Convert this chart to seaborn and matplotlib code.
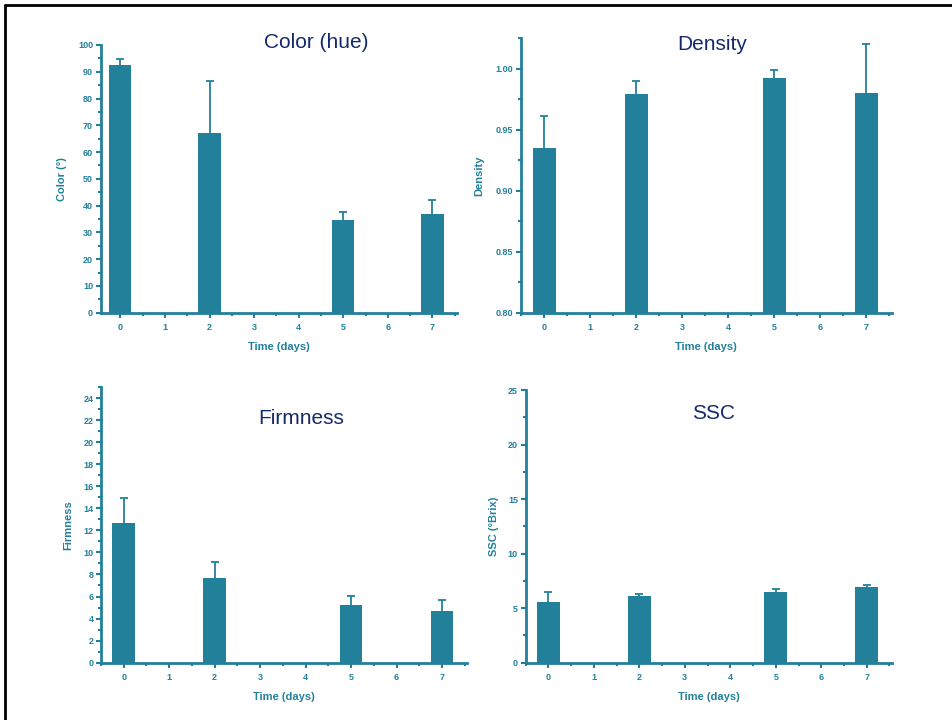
"""
四联柱状图: 颜色 / 密度 / 硬度 / SSC 随贮藏时间变化
"""

import numpy as np
import pandas as pd
import matplotlib
matplotlib.use("Agg")
import matplotlib.pyplot as plt
from matplotlib.lines import Line2D
from matplotlib.ticker import MultipleLocator
import seaborn as sns

sns.set_style("ticks")
plt.rcParams['font.family'] = ['Liberation Sans', 'DejaVu Sans']

# ============================================================
# 数据
# ============================================================
days = [0, 2, 5, 7]

color_hue = [92.5, 67.0, 34.8, 36.7]
color_err = [2.2, 19.6, 2.8, 5.3]

density = [0.935, 0.979, 0.992, 0.980]
density_err = [0.026, 0.011, 0.007, 0.040]

firmness = [12.7, 7.7, 5.25, 4.7]
firmness_err = [2.2, 1.45, 0.8, 0.95]

ssc = [5.55, 6.15, 6.5, 6.95]
ssc_err = [0.9, 0.18, 0.27, 0.18]

TEAL = "#23809a"
NAVY = "#15296b"

# ============================================================
# 画图
# ============================================================
fig = plt.figure(figsize=(9.53, 7.2), dpi=100)

panels = [
    # values, err, title, ylabel, ylim, major, minor, fmt, axes rect, xlim0, title pos, ylabel x
    (color_hue, color_err, "Color (hue)", "Color (°)", (0, 100), 10, 5, "{:.0f}",
     [0.1057, 0.5657, 0.3738, 0.3718], -0.44, (316, 42), -0.095),
    (density, density_err, "Density", "Density", (0.80, 1.025), 0.05, 0.025, "{:.2f}",
     [0.5467, 0.5657, 0.3890, 0.3815], -0.50, (712, 44), -0.099),
    (firmness, firmness_err, "Firmness", "Firmness", (0, 25), 2, 1, "{:.0f}",
     [0.1060, 0.0796, 0.3840, 0.3829], -0.50, (301, 418), -0.076),
    (ssc, ssc_err, "SSC", "SSC (°Brix)", (0, 25), 5, 2.5, "{:.0f}",
     [0.5516, 0.0796, 0.3841, 0.3787], -0.50, (714, 414), -0.074),
]

for vals, err, title, ylab, ylim, major, minor, fmt, rect, x0, tpos, ylx in panels:
    ax = fig.add_axes(rect)
    df = pd.DataFrame({"day": days, "value": vals})
    # 误差线画在柱子下面, 下半段被柱子遮住
    ax.errorbar(days, vals, yerr=err, fmt="none", ecolor=TEAL,
                elinewidth=1.3, capsize=2.6, capthick=1.3, zorder=0.5)
    sns.barplot(data=df, x="day", y="value", native_scale=True, width=0.25,
                color=TEAL, saturation=1, linewidth=0, ax=ax, errorbar=None,
                zorder=1)

    ax.set_xlim(x0, 7.55)
    ax.set_ylim(*ylim)
    ax.xaxis.set_minor_locator(MultipleLocator(0.5))
    ax.yaxis.set_minor_locator(MultipleLocator(minor))
    yt = np.arange(ylim[0], ylim[1] + 1e-9, major)
    ax.set_yticks(yt)
    ax.set_yticklabels([fmt.format(v) for v in yt])
    ax.set_xticks(range(8))
    ax.set_xticklabels([str(d) for d in range(8)])

    for side in ["top", "right"]:
        ax.spines[side].set_visible(False)
    for side in ["left", "bottom"]:
        ax.spines[side].set_color(TEAL)
        ax.spines[side].set_linewidth(2)

    ax.tick_params(which="major", direction="out", length=3.5, width=1.5,
                   color=TEAL, labelcolor=TEAL, labelsize=6.5, pad=2)
    ax.tick_params(axis="x", which="major", pad=4)
    ax.tick_params(which="minor", direction="out", length=2, width=1.5, color=TEAL)
    for lbl in ax.get_xticklabels() + ax.get_yticklabels():
        lbl.set_fontweight("bold")

    ax.set_xlabel("Time (days)", color=TEAL, fontsize=8, fontweight="bold", labelpad=7)
    ax.set_ylabel(ylab, color=TEAL, fontsize=8, fontweight="bold")
    ax.yaxis.set_label_coords(ylx, 0.5)

    fig.text(tpos[0] / 953, 1 - tpos[1] / 720, title, color=NAVY, fontsize=15,
             ha="center", va="center")

# 左/上黑框
fig.add_artist(Line2D([0.005, 0.005], [0, 0.993], color="black", lw=2))
fig.add_artist(Line2D([0.005, 1.0], [0.993, 0.993], color="black", lw=2))

plt.savefig("out.png", dpi=100)
